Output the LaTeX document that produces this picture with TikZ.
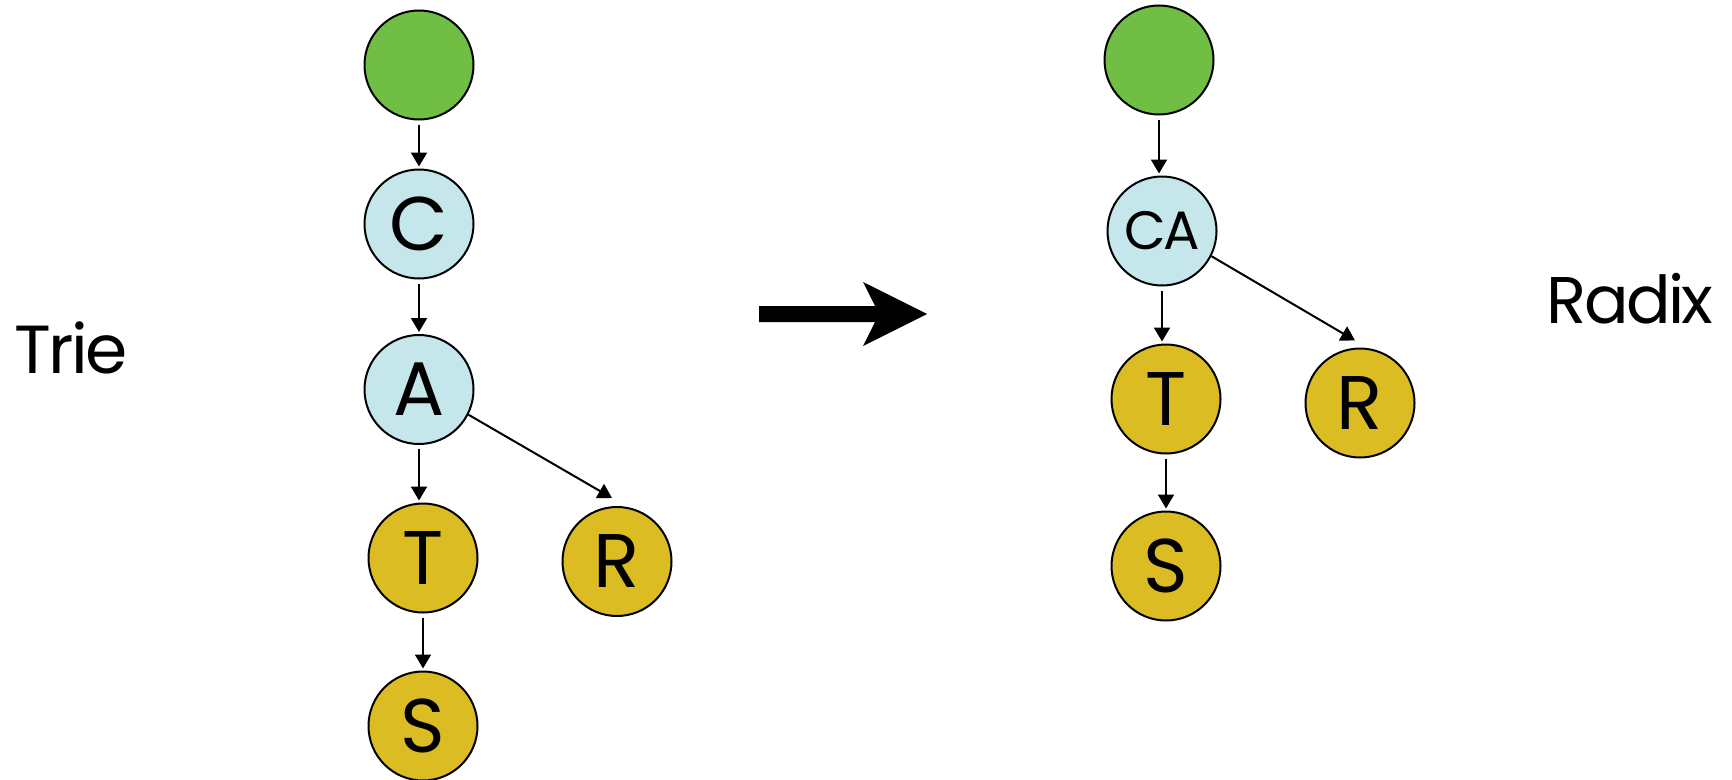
\documentclass[tikz,border=0pt]{standalone}
\usepackage{fontspec}
\setmainfont{Poppins}
\usetikzlibrary{arrows.meta}
\definecolor{rootgreen}{RGB}{112,191,68}
\definecolor{innerblue}{RGB}{197,230,234}
\definecolor{leafgold}{RGB}{219,188,35}
\newfontfamily\tightfont[LetterSpace=-4]{Poppins}
\tikzset{
  tnode/.style={circle, draw=black, line width=2pt, minimum size=109pt, inner sep=0pt,
    font=\fontsize{76}{80}\selectfont},
  rootnode/.style={tnode, fill=rootgreen},
  innernode/.style={tnode, fill=innerblue},
  leafnode/.style={tnode, fill=leafgold},
  arr/.style={line width=2pt, -{Triangle[width=16pt,length=14pt]}, shorten <=4pt, shorten >=2pt},
  label/.style={anchor=base}
}
\begin{document}
\begin{tikzpicture}[x=1pt,y=-1pt]
\useasboundingbox (0,0) rectangle (1732,779);
% left trie
\node[rootnode]  (r1) at (419,65) {};
\node[innernode] (c1) at (419,224) {C};
\node[innernode] (a1) at (419,389.5) {A};
\node[leafnode]  (t1) at (423,558) {T};
\node[leafnode]  (q1) at (617,561.5) {R};
\node[leafnode]  (s1) at (423,726) {S};
\coordinate (q1in) at ([shift={(-5,-8)}]q1.north);
\draw[arr] (r1.south) -- (r1.south |- c1.north);
\draw[arr] (c1.south) -- (c1.south |- a1.north);
\draw[arr] (a1.south) -- (a1.south |- t1.north);
\draw[arr] (t1.south) -- (t1.south |- s1.north);
\draw[arr, shorten <=0pt, shorten >=0pt] (a1.-27) -- (q1in);
% right radix
\node[innernode, font=\tightfont\fontsize{54}{60}\selectfont] (c2) at (1162,231) {CA};
\node[rootnode]  (r2) at (1159,60) {};
\node[leafnode]  (t2) at (1166,399) {T};
\node[leafnode]  (q2) at (1360,403) {R};
\node[leafnode]  (s2) at (1166,566) {S};
\coordinate (q2in) at ([shift={(-5,-7)}]q2.north);
\draw[arr] (r2.south) -- (r2.south |- c2.north);
\draw[arr] (c2.south) -- (c2.south |- t2.north);
\draw[arr] (t2.south) -- (t2.south |- s2.north);
\draw[arr, shorten <=0pt, shorten >=0pt] (c2.-27) -- (q2in);
% big arrow
\fill[black] (759,306) -- (875,306) -- (863,282) -- (927,314) -- (863,346) -- (875,322) -- (759,322) -- cycle;
% labels
\node[label, font=\tightfont\fontsize{68}{72}\selectfont] (trie) at (71,373) {Trie};
\node[label, font=\tightfont\fontsize{66}{72}\selectfont] (radix) at (1630,323) {Radix};
\end{tikzpicture}
\end{document}
